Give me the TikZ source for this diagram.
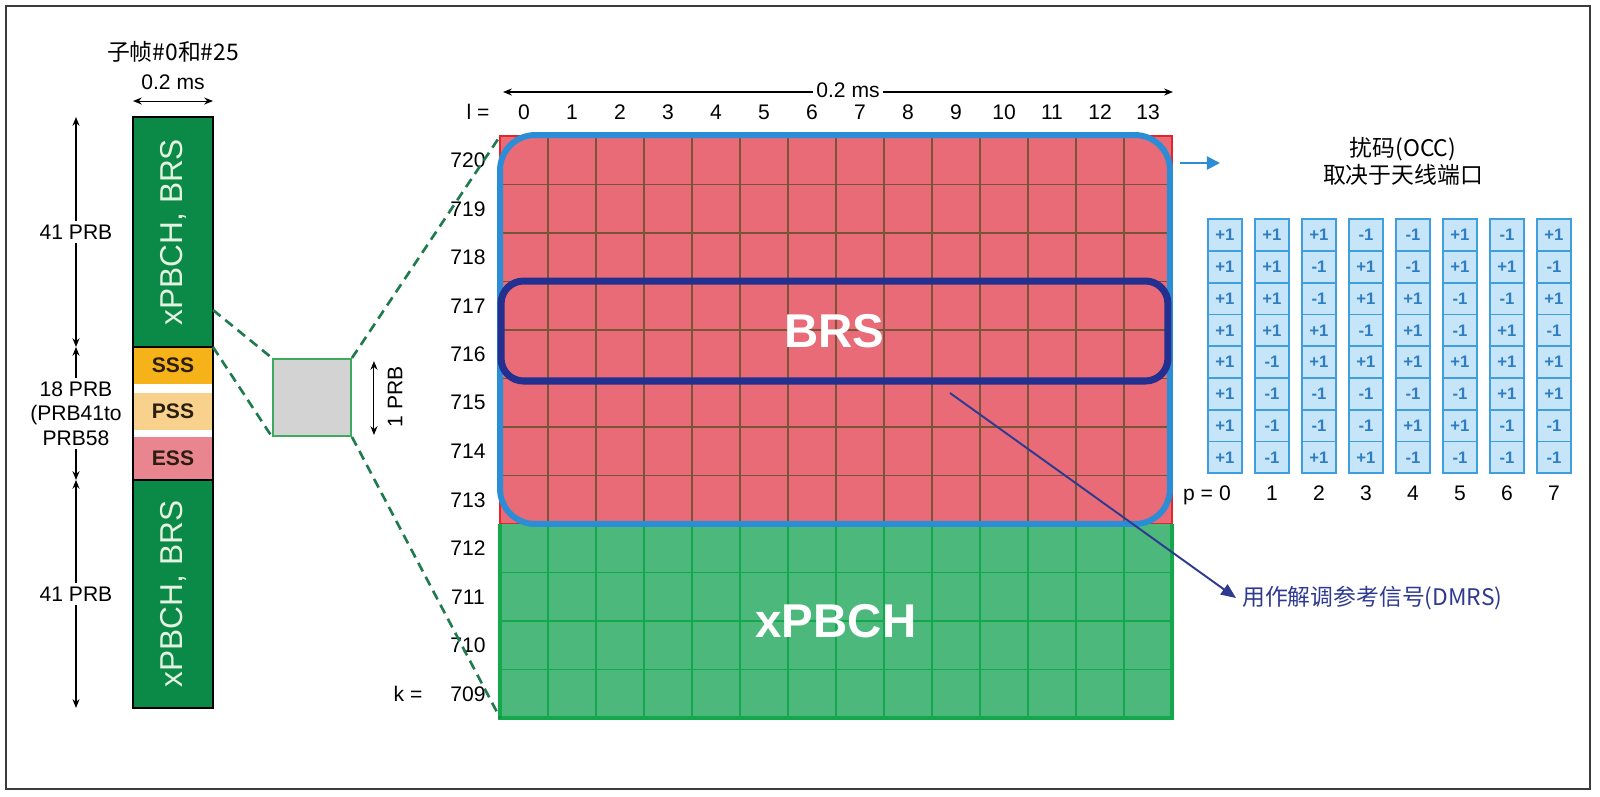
\documentclass[tikz,border=0pt]{standalone}
\usepackage{fontspec}
\setmainfont{Liberation Sans}
\newfontfamily\cjk{Noto Sans CJK SC}
\usetikzlibrary{arrows.meta,positioning,calc}
\definecolor{framec}{HTML}{3C3C3C}
\definecolor{bargreen}{HTML}{0A8A46}
\definecolor{barlbl}{HTML}{E4F2E2}
\definecolor{sssc}{HTML}{F6B219}
\definecolor{pssc}{HTML}{F8D28C}
\definecolor{essc}{HTML}{E8858F}
\definecolor{segtxt}{HTML}{2B1E10}
\definecolor{prbgray}{HTML}{D3D3D3}
\definecolor{prbedge}{HTML}{3DAA62}
\definecolor{dashgreen}{HTML}{1F7A4D}
\definecolor{brsred}{HTML}{E86B77}
\definecolor{edgered}{HTML}{E3262A}
\definecolor{brownc}{HTML}{7A5436}
\definecolor{pbchgreen}{HTML}{4DB87B}
\definecolor{gridgreen}{HTML}{12A84B}
\definecolor{occblue}{HTML}{2A8DD6}
\definecolor{brsnavy}{HTML}{24308F}
\definecolor{dmrsnavy}{HTML}{2E3A90}
\definecolor{occfill}{HTML}{C6E5F8}
\definecolor{occedge}{HTML}{3F9EDC}
\definecolor{occtxt}{HTML}{2F7EC1}
\tikzset{%
   seg/.style={
      rectangle,
      inner sep=0mm,
      outer sep=0mm,
      minimum width=1.6cm,
      text=segtxt,
      font=\fontsize{12}{14}\selectfont\bfseries
   },
   bartxt/.style={
      rotate=90,
      text=barlbl,
      font=\fontsize{18}{20}\selectfont
   },
   blk/.style={
      rectangle,
      inner sep=0mm,
      outer sep=0mm,
      minimum width=13.44cm
   },
   bigtxt/.style={
      text=white,
      font=\fontsize{27}{30}\selectfont\bfseries
   },
   brownln/.style={
      draw=brownc,
      line width=1pt
   },
   greenln/.style={
      draw=gridgreen,
      line width=1.1pt
   },
   dimarr/.style={
      <->,
      >={Stealth[length=5pt,width=4pt]},
      line width=0.6pt
   },
   dimlbl/.style={
      fill=white,
      inner sep=2pt
   },
   zoomln/.style={
      draw=dashgreen,
      line width=1.5pt,
      dash pattern=on 5.5pt off 3.5pt
   },
   occ/.style={
      rectangle,
      draw=occedge,
      fill=occfill,
      line width=1pt,
      inner sep=0mm,
      minimum width=0.68cm,
      minimum height=0.635cm,
      text=occtxt,
      font=\fontsize{9.5}{10}\selectfont\bfseries
   },
   occarr/.style={
      ->,
      >={Triangle[length=7.5pt,width=7.5pt]},
      draw=occblue,
      line width=1.2pt
   },
   dmrsarr/.style={
      ->,
      >={Triangle[length=8.5pt,width=7pt]},
      draw=dmrsnavy,
      line width=1.1pt
   },
   cjklbl/.style={
      font=\cjk\fontsize{13}{15.3}\selectfont
   },
}

\begin{document}
\begin{tikzpicture}[x=0.02cm, y=-0.02cm, font=\fontsize{12}{14}\selectfont]
  \useasboundingbox (0,0) rectangle (1600,796);
  \draw[framec, line width=1.1pt] (6,6) rectangle (1590,789);

  % subframe bar
  \node[seg, fill=bargreen, minimum height=4.6cm] (topg) at (173,232) {};
  \node[seg, fill=sssc, minimum height=0.74cm, below=0pt of topg] (sss) {SSS};
  \node[seg, fill=pssc, minimum height=0.74cm, below=0.18cm of sss] (pss) {PSS};
  \node[seg, fill=essc, minimum height=0.86cm, below=0.14cm of pss] (ess) {ESS};
  \node[seg, fill=bargreen, minimum height=4.56cm, below=0pt of ess] (botg) {};
  \node[bartxt] (toptxt) at (topg) {xPBCH, BRS};
  \node[bartxt] (bottxt) at (botg) {xPBCH, BRS};
  \draw[line width=1.1pt] (topg.north west) rectangle (botg.south east);
  \draw[line width=1.1pt] (topg.south west) -- (topg.south east);
  \draw[line width=1.1pt] (ess.south west) -- (ess.south east);

  \node[cjklbl] (barttl) at (173,52) {子帧\#0和\#25};
  \node (barms) at (173,82) {0.2 ms};
  \draw[dimarr] ($(topg.north west)+(0,-16)$) -- ($(topg.north east)+(0,-16)$);

  \coordinate (dl) at (76,0);
  \draw[dimarr] (dl |- topg.north) -- node[dimlbl] {41 PRB} (dl |- topg.south);
  \draw[dimarr] (dl |- sss.north) -- node[dimlbl, align=center] {18 PRB\\(PRB41to\\PRB58} (dl |- ess.south);
  \draw[dimarr] (dl |- botg.north) -- node[dimlbl] {41 PRB} (dl |- botg.south);

  % one PRB
  \node[draw=prbedge, fill=prbgray, line width=1.1pt, inner sep=0mm,
        minimum width=1.56cm, minimum height=1.54cm] (prb) at (312,397.5) {};
  \draw[dimarr] ($(prb.north east)+(22,3)$) -- ($(prb.south east)+(22,-2)$);
  \node[rotate=90] (prblbl) at (395,397) {1 PRB};

  % resource grid
  \node[blk, fill=brsred, draw=edgered, line width=0.8pt, minimum height=7.76cm] (brsblk) at (836,330) {};
  \node[blk, fill=pbchgreen, minimum height=3.88cm, below=0pt of brsblk] (pbchblk) {};
  \foreach \i in {1,...,13}{
    \draw[brownln] ({500+48*\i},136) -- ({500+48*\i},524);
    \draw[greenln] ({500+48*\i},524) -- ({500+48*\i},718);
  }
  \foreach \j in {1,...,7}
    \draw[brownln] (500,{136+48.5*\j}) -- (1172,{136+48.5*\j});
  \foreach \j in {1,2,3}
    \draw[greenln] (500,{524+48.5*\j}) -- (1172,{524+48.5*\j});
  \draw[greenln, line width=1.8pt] (pbchblk.north west) -- (pbchblk.south west)
    -- (pbchblk.south east) -- (pbchblk.north east);
  \node[bigtxt] (pbchtxt) at (pbchblk) {xPBCH};

  \node[draw=occblue, line width=3.4pt, rounded corners=0.7cm, inner sep=0mm,
        minimum width=13.4cm, minimum height=7.78cm] (brsarea) at (835,329.5) {};
  \node[bigtxt, draw=brsnavy, line width=4pt, rounded corners=0.45cm, inner sep=0mm,
        minimum width=13.34cm, minimum height=2cm] (brs) at (834.5,331) {BRS};

  % axes
  \node (lhead) at (478,112) {l =};
  \foreach \l in {0,...,13}
    \node (l\l) at ({524+48*\l},112) {\l};
  \foreach \k [count=\j from 0] in {720,719,...,709}
    \node (k\k) at (468,{160.25+48.5*\j}) {\k};
  \node (khead) at (408,694) {k =};
  \coordinate (tdim) at (0,92);
  \draw[dimarr] ($(brsblk.north west |- tdim)+(3,0)$) -- ($(brsblk.north east |- tdim)+(1,0)$);
  \node[dimlbl] (gridms) at (848,90) {0.2 ms};

  % zoom lines
  \coordinate (cut) at ($(topg.south east)+(0,-37)$);
  \draw[zoomln] (cut) -- (prb.north west);
  \draw[zoomln] (topg.south east) -- (prb.south west);
  \draw[zoomln] (prb.north east) -- (brsblk.north west);
  \draw[zoomln] (prb.south east) -- (pbchblk.south west);

  % OCC codes
  \coordinate (occtip) at (1220,163);
  \draw[occarr] ($(brsarea.east |- occtip)+(7,0)$) -- (occtip);
  \node[cjklbl, align=center] (occhd) at (1403,161) {扰码(OCC)\\取决于天线端口};
  \foreach \c/\codes in {0/{+1,+1,+1,+1,+1,+1,+1,+1},
                         1/{+1,+1,+1,+1,-1,-1,-1,-1},
                         2/{+1,-1,-1,+1,+1,-1,-1,+1},
                         3/{-1,+1,+1,-1,+1,-1,-1,+1},
                         4/{-1,-1,+1,+1,+1,-1,+1,-1},
                         5/{+1,+1,-1,-1,+1,-1,+1,-1},
                         6/{-1,+1,-1,+1,+1,+1,-1,-1},
                         7/{+1,-1,+1,-1,+1,+1,-1,-1}}{
    \node[anchor=base] (p\c) at ({1225+47*\c},500) {\c};
    \foreach \v [count=\r from 0] in \codes
      \node[occ] (occ\c\r) at ({1225+47*\c},{235+31.75*\r}) {\v};
  }
  \node[anchor=base] (phead) at (1198,500) {p =};

  % DMRS
  \coordinate (dmrsfrom) at (950,393);
  \node[cjklbl, text=dmrsnavy, anchor=west] (dmrs) at (1236,598) {用作解调参考信号(DMRS)};
  \draw[dmrsarr] (dmrsfrom) -- (dmrs.west);
\end{tikzpicture}
\end{document}
